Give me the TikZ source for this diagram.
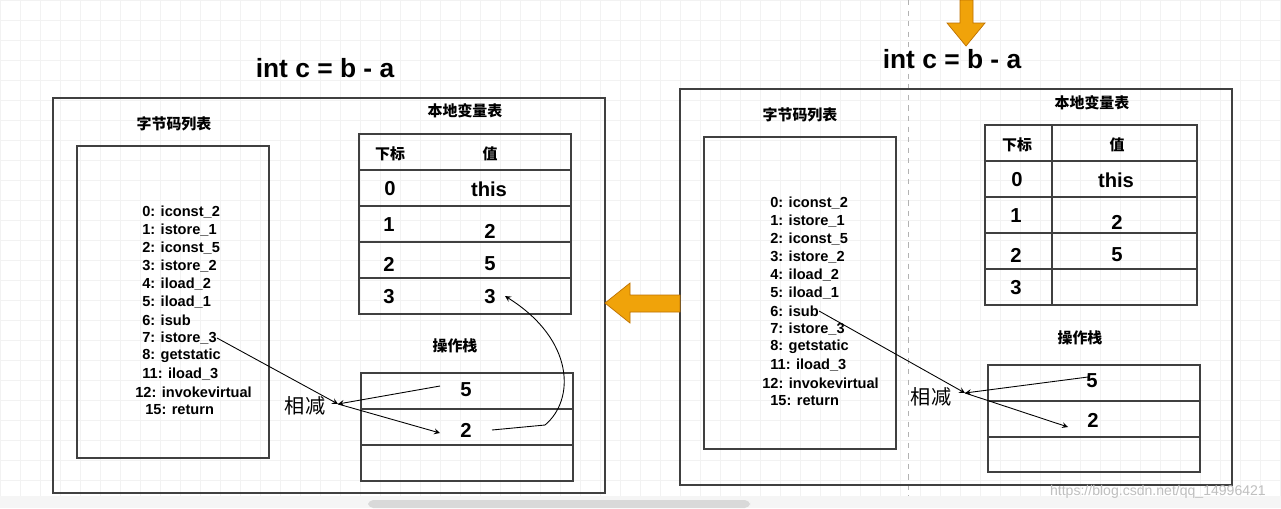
\documentclass[tikz,border=0pt]{standalone}
\usepackage{fontspec}
\setmainfont{Liberation Sans}
\newfontfamily\cjk{Noto Sans CJK SC}
\definecolor{amber}{HTML}{F0A30A}
\definecolor{amberd}{HTML}{BD7000}
\begin{document}
\begin{tikzpicture}[x=0.02cm,y=-0.02cm,
  boxl/.style={draw=black!75,line width=0.8pt},
  cn/.style={font=\cjk\bfseries\fontsize{8.5}{10}\selectfont},
  code/.style={font=\bfseries\fontsize{8.3}{9}\selectfont,anchor=west,inner sep=0},
  big/.style={font=\bfseries\fontsize{11.5}{12}\selectfont},
  ttl/.style={font=\bfseries\fontsize{15}{16}\selectfont},
  sub/.style={font=\cjk\fontsize{11.5}{12}\selectfont},
  arr/.style={-stealth,line width=0.5pt},
  org/.style={fill=amber,draw=amberd,line width=0.4pt}]
\useasboundingbox (0,0) rectangle (1281,508);
\fill[white] (0,0) rectangle (1281,508);
\foreach \i in {0,20,...,1280} \draw[black!5,line width=0.3pt] (\i,0) -- (\i,508);
\foreach \j in {0,20,...,500} \draw[black!5,line width=0.3pt] (0,\j) -- (1281,\j);
\draw[black!30,dashed,line width=0.4pt] (908,0) -- (908,508);
% ---------- left panel
\node[ttl] (t1) at (325,68) {int c = b - a};
\draw[boxl] (53,98) rectangle (605,493);
\node[cn] (bl1) at (174,124) {字节码列表};
\draw[boxl] (77,146) rectangle (269,458);
\foreach \s [count=\k from 0] in {0: iconst\_2,1: istore\_1,2: iconst\_5,3: istore\_2,4: iload\_2,5: iload\_1,6: isub,7: istore\_3,8: getstatic,11: iload\_3}
  \node[code] (lc\k) at (142,212+18*\k) {\s};
\node[code] (lc10) at (135,392) {12: invokevirtual};
\node[code] (lc11) at (145,410) {15: return};
\node[cn] (lv1) at (465,111) {本地变量表};
\draw[boxl] (359,134) rectangle (571,314);
\foreach \y in {170,206,242,278} \draw[boxl] (359,\y) -- (571,\y);
\node[cn] (h1) at (390,154) {下标};
\node[cn] (h2) at (490,154) {值};
\node[big] (a0) at (390,189) {0};
\node[big] (b0) at (489,189) {this};
\node[big] (a1) at (389,225) {1};
\node[big] (b1) at (490,231) {2};
\node[big] (a2) at (389,264) {2};
\node[big] (b2) at (490,264) {5};
\node[big] (a3) at (389,297) {3};
\node[big] (b3) at (490,297) {3};
\node[cn] (os1) at (455,346) {操作栈};
\draw[boxl] (361,373) rectangle (573,481);
\foreach \y in {409,445} \draw[boxl] (361,\y) -- (573,\y);
\node[big] (s5) at (466,390) {5};
\node[big] (s2) at (466,430) {2};
\node[sub] (m1) at (305,406) {相减};
\coordinate (p1) at (338,404);
\draw[arr] (lc7.east) -- (p1);
\draw[arr] (440,386) -- (p1);
\draw[arr] (p1) -- (440,433);
\draw[arr] (492,430) -- (545,425) .. controls (575,400) and (575,340) .. (505,296);
% ---------- right panel
\node[ttl] (t2) at (952,59) {int c = b - a};
\draw[boxl] (680,89) rectangle (1232,485);
\node[cn] (bl2) at (800,115) {字节码列表};
\draw[boxl] (704,137) rectangle (896,449);
\foreach \s [count=\k from 0] in {0: iconst\_2,1: istore\_1,2: iconst\_5,3: istore\_2,4: iload\_2,5: iload\_1,6: isub,7: istore\_3,8: getstatic,11: iload\_3}
  \node[code] (rc\k) at (770,203+18*\k) {\s};
\node[code] (rc10) at (762,383) {12: invokevirtual};
\node[code] (rc11) at (770,401) {15: return};
\node[cn] (lv2) at (1092,103) {本地变量表};
\draw[boxl] (985,125) rectangle (1197,305);
\foreach \y in {161,197,233,269} \draw[boxl] (985,\y) -- (1197,\y);
\draw[boxl] (1052,125) -- (1052,305);
\node[cn] (h3) at (1017,145) {下标};
\node[cn] (h4) at (1117,145) {值};
\node[big] (c0) at (1017,180) {0};
\node[big] (d0) at (1116,180) {this};
\node[big] (c1) at (1016,216) {1};
\node[big] (d1) at (1117,222) {2};
\node[big] (c2) at (1016,255) {2};
\node[big] (d2) at (1117,255) {5};
\node[big] (c3) at (1016,288) {3};
\node[cn] (os2) at (1080,338) {操作栈};
\draw[boxl] (988,365) rectangle (1200,472);
\foreach \y in {401,437} \draw[boxl] (988,\y) -- (1200,\y);
\node[big] (r5) at (1092,381) {5};
\node[big] (r2) at (1093,420) {2};
\node[sub] (m2) at (931,397) {相减};
\coordinate (p2) at (965,393);
\draw[arr] (rc6.east) -- (p2);
\draw[arr] (1088,377) -- (p2);
\draw[arr] (p2) -- (1068,427);
% ---------- orange arrows
\draw[org] (960,0) -- (973,0) -- (973,23) -- (985,23) -- (966,46) -- (947,23) -- (960,23) -- cycle;
\draw[org] (680,295) -- (630,295) -- (630,283) -- (605,303) -- (630,323) -- (630,312) -- (680,312) -- cycle;
% ---------- scrollbar and watermark
\fill[black!4] (0,496) rectangle (1281,508);
\fill[black!15,rounded corners=3] (368,500) rectangle (750,508);
\node[text=black!25,font=\fontsize{8}{9}\selectfont,anchor=east] (wm) at (1272,492) {https://blog.csdn.net/qq\_14996421};
\end{tikzpicture}
\end{document}
